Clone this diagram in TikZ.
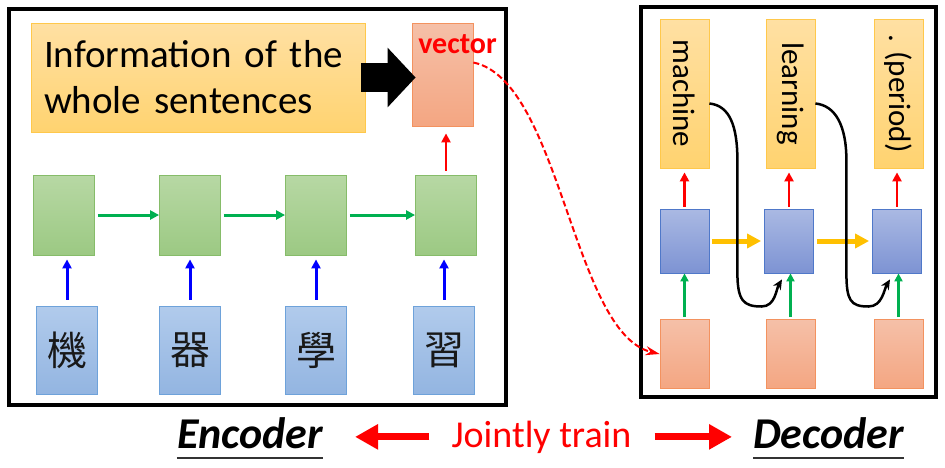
\documentclass[tikz,border=0pt]{standalone}
\usepackage{fontspec}
\setmainfont{Carlito}
\newfontfamily\cjkfont{Noto Sans CJK TC}
\usetikzlibrary{arrows.meta}

\definecolor{infotop}{HTML}{FFE0A3}
\definecolor{infobot}{HTML}{FFD370}
\definecolor{infoline}{HTML}{FFC84B}
\definecolor{vectop}{HTML}{F5C0A8}
\definecolor{vecbot}{HTML}{F4A682}
\definecolor{vecline}{HTML}{F3925F}
\definecolor{grntop}{HTML}{B7D8A4}
\definecolor{grnbot}{HTML}{9CC983}
\definecolor{grnline}{HTML}{86BC69}
\definecolor{wrdtop}{HTML}{B1CBEC}
\definecolor{wrdbot}{HTML}{93B5E1}
\definecolor{wrdline}{HTML}{6EA2DA}
\definecolor{dectop}{HTML}{AAB9E3}
\definecolor{decbot}{HTML}{7D93D3}
\definecolor{decline}{HTML}{4F78C9}
\definecolor{arrblue}{HTML}{0000FF}
\definecolor{arrgreen}{HTML}{00B050}
\definecolor{arrred}{HTML}{FF0000}
\definecolor{arrgold}{HTML}{FFC000}

\tikzset{
  cell/.style={draw, line width=0.8pt, inner sep=0pt},
  infobox/.style={cell, draw=infoline, top color=infotop, bottom color=infobot},
  vecbox/.style={cell, draw=vecline, top color=vectop, bottom color=vecbot},
  rnnbox/.style={cell, draw=grnline, top color=grntop, bottom color=grnbot, minimum width=61pt, minimum height=80pt},
  wordbox/.style={cell, draw=wrdline, top color=wrdtop, bottom color=wrdbot, minimum width=61pt, minimum height=88pt,
    font=\cjkfont\fontsize{40}{40}\selectfont, text=black!90},
  decbox/.style={cell, draw=decline, top color=dectop, bottom color=decbot, minimum width=49pt, minimum height=64pt},
  outbox/.style={infobox, minimum width=49pt, minimum height=149pt, font=\fontsize{31}{31}\selectfont},
  frame/.style={draw, line width=4pt, inner sep=0pt},
  inarrow/.style={-{Triangle[length=9pt,width=9pt]}, line width=3pt, arrblue},
  recarrow/.style={-{Triangle[length=9pt,width=9pt]}, line width=3pt, arrgreen},
  outarrow/.style={-{Triangle[length=9pt,width=9pt]}, line width=2.5pt, arrred},
  decin/.style={-{Triangle[length=8pt,width=8pt]}, line width=2.5pt, arrgreen},
  statearrow/.style={-{Triangle[length=14pt,width=14pt]}, line width=5pt, arrgold},
  feedback/.style={-{Stealth[length=10pt,width=9pt]}, line width=2.5pt, black},
  linkarrow/.style={-{Stealth[length=14pt,width=9pt]}, line width=2pt, arrred, dash pattern=on 6pt off 3pt},
  blockarrow/.style={-{Triangle[length=28pt,width=58pt]}, line width=29pt, black},
  jointarrow/.style={-{Triangle[length=23pt,width=24pt]}, line width=7pt, arrred},
  sidelbl/.style={inner sep=0pt, font=\fontsize{44}{44}\selectfont\bfseries\itshape},
  trainlbl/.style={inner sep=0pt, font=\fontsize{38}{38}\selectfont, text=arrred},
  uline/.style={line width=2pt, black!80}
}

\begin{document}
\begin{tikzpicture}[x=1pt, y=-1pt]
\useasboundingbox[fill=white] (0,0) rectangle (945,467);

% frames
\node[frame, minimum width=497pt, minimum height=396pt] (encframe) at (257.5,207) {};
\node[frame, minimum width=295pt, minimum height=390pt] (decframe) at (788.5,202) {};

% encoder
\node[infobox, minimum width=334pt, minimum height=109pt, text width=308pt, align=left,
  font=\fontsize{39}{46}\selectfont] (info) at (198,77.5) {Information of the\\whole sentences};
\node[vecbox, minimum width=61pt, minimum height=103pt] (vec) at (442.5,74.5) {};
\node[inner sep=0pt, anchor=base, font=\fontsize{30}{30}\selectfont\bfseries, text=arrred] (vtxt) at (457.5,53) {vector};
\draw[blockarrow, shorten <=-4pt, shorten >=-4pt] (info.east) -- (info.east -| vec.west);

\foreach \x/\n in {64/1, 190/2, 316/3, 446/4}
  \node[rnnbox] (g\n) at (\x,215) {};
\foreach \x/\n/\w in {67/1/機, 190/2/器, 316/3/學, 444/4/習}
  \node[wordbox] (c\n) at (\x,350) {\w};

\foreach \n in {1,...,4}
  \draw[inarrow, shorten <=6pt, shorten >=4pt] (c\n.north) -- (c\n.north |- g\n.south);
\foreach \a/\b in {1/2, 2/3, 3/4}
  \draw[recarrow, shorten <=3pt] (g\a) -- (g\b);
\draw[outarrow, shorten <=4pt, shorten >=7pt] (g4.north) -- (g4.north |- vec.south);

% decoder
\foreach \x/\n/\w in {684.5/1/machine, 790.5/2/learning, 898.5/3/{. (period)}}
  \node[outbox] (y\n) at (\x,93.5) {\rotatebox{-90}{\w}};
\foreach \x/\n in {684.5/1, 789/2, 897/3}
  \node[decbox] (d\n) at (\x,241) {};
\foreach \x/\n in {684.5/1, 790.5/2, 898.5/3}
  \node[vecbox, minimum width=49pt, minimum height=69pt] (s\n) at (\x,354) {};

\foreach \n in {1,2,3} {
  \draw[decin, shorten <=2pt] (s\n.north) -- (s\n.north |- d\n.south);
  \draw[outarrow, shorten <=2pt, shorten >=4pt] (d\n.north) -- (d\n.north |- y\n.south);
}
\draw[statearrow, shorten <=3pt, shorten >=3pt] (d1) -- (d2);
\draw[statearrow, shorten <=3pt, shorten >=3pt] (d2) -- (d3);

\draw[feedback] ([yshift=-10pt]y1.east) .. controls +(20,2) and +(0,-35) .. ++(28,57)
  -- ++(0,112) .. controls +(0,28) and +(-18,0) .. ++(24,34)
  .. controls +(14,0) and +(-6,10) .. ([xshift=-7pt,yshift=-6pt]d2.south);
\draw[feedback] ([yshift=-10pt]y2.east) .. controls +(20,2) and +(0,-35) .. ++(31,57)
  -- ++(0,112) .. controls +(0,28) and +(-18,0) .. ++(22,34)
  .. controls +(14,0) and +(-6,10) .. ([xshift=-7pt,yshift=-6pt]d3.south);

% link between the two
\draw[linkarrow] ([yshift=12pt]vec.east) .. controls +(87,18) and +(-87,-21) .. (s1.west);

% bottom line
\node[sidelbl, anchor=base] (enc) at (250,448) {Encoder};
\node[trainlbl, anchor=base] (jt) at (541.5,447) {Jointly train};
\node[sidelbl, anchor=base] (dec) at (828.5,448) {Decoder};
\draw[uline] ([yshift=-10pt]enc.base west) -- ([yshift=-10pt]enc.base east);
\draw[uline] ([yshift=-10pt]dec.base west) -- ([yshift=-10pt]dec.base east);
\draw[jointarrow, shorten <=22pt, shorten >=32pt] (jt.west) -- (jt.west -| enc.east);
\draw[jointarrow, shorten <=23pt, shorten >=21pt] (jt.east) -- (jt.east -| dec.west);
\end{tikzpicture}
\end{document}
